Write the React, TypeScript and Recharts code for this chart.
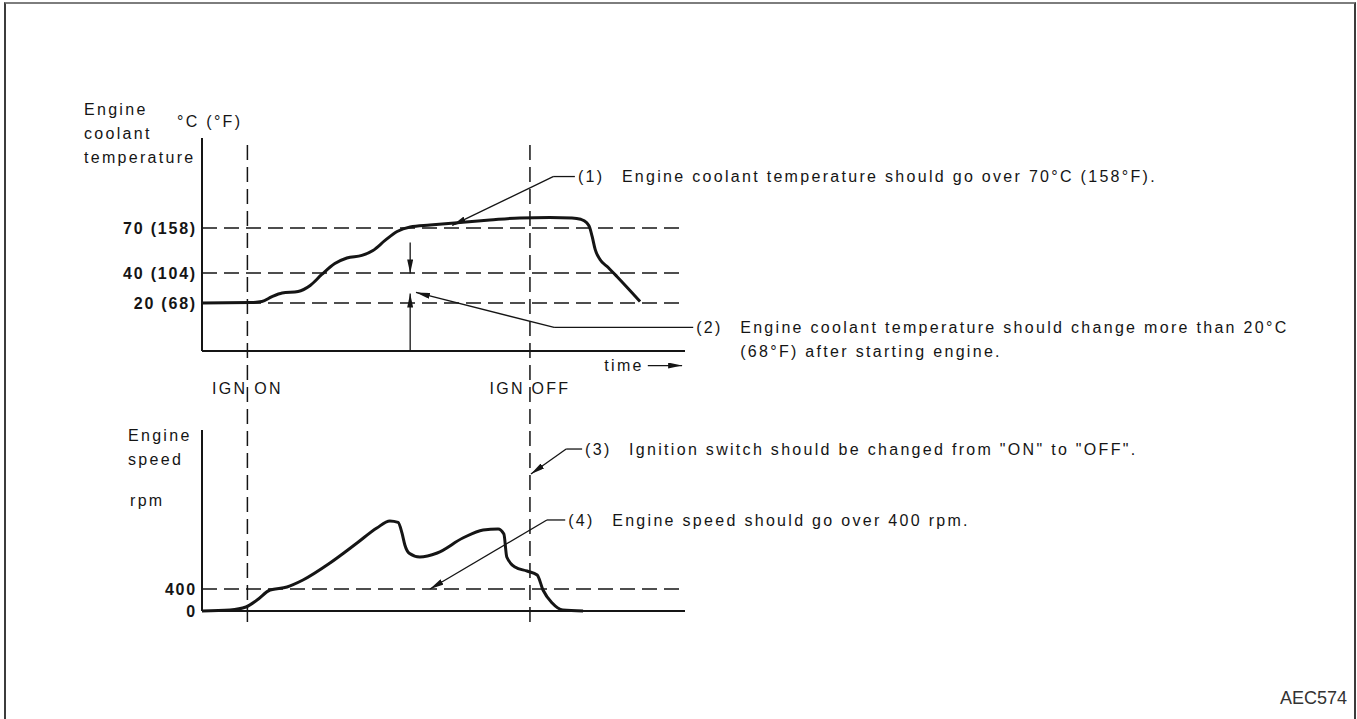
import React from "react";
import { ComposedChart, Line, XAxis, YAxis, ReferenceLine } from "recharts";

// schematic time axis 0..100, the two key instants marked on it
const ignOn = 9.4;
const ignOff = 67.9;

// engine coolant temperature trace, °C
const tempTime = [0, 10.1, 12.4, 14.5, 16.6, 19.9, 22.4, 24.8, 27.5, 30, 33.1, 35.4, 37.9, 40.4, 43.1, 47.2, 53.4, 59.6, 65.8, 72, 76.6, 78.4, 79.6, 80.3, 80.8, 81.4, 82.4, 84.1, 85.9, 90.7];
const tempValues = [20, 20.3, 21, 24.3, 26.7, 27.7, 31.7, 39, 46.3, 50, 51.7, 55, 61.7, 67.7, 70.7, 72, 73.7, 75.3, 76.7, 77, 76.7, 75.8, 73.6, 70, 64, 55.7, 49, 43.7, 37.7, 21];

// engine speed trace, rpm
const rpmTime = [0, 5.8, 9.1, 11.4, 14.1, 17.6, 20.9, 26.5, 32.1, 36.2, 38.9, 40.6, 41.4, 42, 42.9, 45.1, 48.7, 54, 58.2, 61.3, 62.5, 63.1, 64.8, 67.3, 69.4, 70.6, 72.5, 74.7, 78.9];
const rpmValues = [0, 18, 73, 200, 382, 436, 564, 873, 1236, 1509, 1636, 1610, 1420, 1200, 1050, 982, 1055, 1327, 1473, 1491, 1400, 982, 800, 727, 655, 382, 145, 18, 0];

// threshold levels and their labels
const tempTicks = [70, 40, 20];
const tempTickLabels = ["70 (158)", "40 (104)", "20 (68)"];
const rpmTicks = [400];
const rpmTickLabels = ["400"];

// axis ranges (schematic, not to scale between the two panels)
const tempDomain = [-192.7, 130];
const tempAxisBottom = -12;
const rpmDomain = [-200, 8600];
const rpmAxisTop = 3290;

// the "should change 20°C" double arrow
const changeAt = 43.1;
const changeArrows = [
  { from: 60.3, to: 39.7 },
  { from: -12, to: 26.3 },
];

// numbered notes: arrow tip, elbow, end of leader (time, value)
const notes = [
  { id: "(1)", axis: "temp", tip: [51.8, 71.7], elbow: [72.7, 104.3], end: [77.2, 104.3], lines: ["Engine coolant temperature should go over 70°C (158°F)."] },
  { id: "(2)", axis: "temp", tip: [44.3, 27], elbow: [72.9, 3.7], end: [101.7, 3.7], lines: ["Engine coolant temperature should change more than 20°C", "(68°F) after starting engine."] },
  { id: "(3)", axis: "rpm", tip: [68.1, 2490], elbow: [75.4, 2945], end: [78.7, 2945], lines: ['Ignition switch should be changed from "ON" to "OFF".'] },
  { id: "(4)", axis: "rpm", tip: [47.2, 400], elbow: [71.4, 1655], end: [75.2, 1655], lines: ["Engine speed should go over 400 rpm."] },
];

const tempSeries = tempTime.map((t, i) => ({ t, temp: tempValues[i] }));
const rpmSeries = rpmTime.map((t, i) => ({ t, rpm: rpmValues[i] }));

const INK = "#151515";

const arrowLine = (p: any) => (
  <line x1={p.x1} y1={p.y1} x2={p.x2} y2={p.y2} stroke={INK} strokeWidth={1.3} markerEnd="url(#tip)" />
);

const noteLabel = (note: any) => (props: any) => {
  const vb = props.viewBox || {};
  const x = vb.x + vb.width + 3;
  const y = vb.y;
  return (
    <text className="note">
      <tspan x={x} y={y} dy="0.35em">{note.id}</tspan>
      {note.lines.map((l: string, i: number) => (
        <tspan key={i} x={x + 44} y={y + i * 24} dy="0.35em">{l}</tspan>
      ))}
    </text>
  );
};

const tempTitle = (props: any) => {
  const vb = props.viewBox || {};
  return (
    <text className="note">
      <tspan x={vb.x - 118} y={vb.y - 29} dy="0.35em">Engine</tspan>
      <tspan x={vb.x - 118} y={vb.y - 5} dy="0.35em">coolant</tspan>
      <tspan x={vb.x - 118} y={vb.y + 19} dy="0.35em">temperature</tspan>
      <tspan x={vb.x - 25} y={vb.y - 17} dy="0.35em">°C (°F)</tspan>
    </text>
  );
};

const rpmTitle = (props: any) => {
  const vb = props.viewBox || {};
  return (
    <text className="note">
      <tspan x={vb.x - 74} y={vb.y + 5} dy="0.35em">Engine</tspan>
      <tspan x={vb.x - 74} y={vb.y + 29} dy="0.35em">speed</tspan>
      <tspan x={vb.x - 72} y={vb.y + 70} dy="0.35em">rpm</tspan>
    </text>
  );
};

export default function App() {
  return (
    <div style={{ position: "absolute", left: 0, top: 0, width: 1357, height: 719, overflow: "hidden", background: "#fff" }}>
      <style>{`
        .ect text { font-family: "Liberation Sans", Arial, Helvetica, sans-serif; font-size: 16px; fill: ${INK}; letter-spacing: 2.3px; }
        .ect text.tick-bold { font-weight: 700; letter-spacing: 1.8px; }
      `}</style>
      <div
        style={{
          position: "absolute",
          left: 4,
          top: 2,
          width: 1352,
          height: 740,
          boxSizing: "border-box",
          borderTop: "2px solid #7d7d7d",
          borderLeft: "2px solid #3c3c3c",
          borderRight: "2px solid #3c3c3c",
        }}
      />
      <div className="ect" style={{ position: "absolute", left: 0, top: 0 }}>
        <ComposedChart width={1357} height={719} margin={{ top: 138, right: 672, bottom: 97, left: 202 }}>
          <defs>
            <marker id="tip" viewBox="0 0 14 6" refX="14" refY="3" markerWidth="14" markerHeight="6" markerUnits="userSpaceOnUse" orient="auto">
              <path d="M0,0 L14,3 L0,6 z" fill={INK} />
            </marker>
          </defs>
          <XAxis type="number" dataKey="t" domain={[0, 100]} allowDataOverflow hide />
          <YAxis yAxisId="temp" type="number" domain={tempDomain} allowDataOverflow hide />
          <YAxis yAxisId="rpm" type="number" domain={rpmDomain} allowDataOverflow hide />

          {/* level lines */}
          {tempTicks.map((v, i) => (
            <ReferenceLine
              key={`tl-${v}`}
              yAxisId="temp"
              y={v}
              stroke={INK}
              strokeWidth={1.5}
              strokeDasharray="15 7"
              label={{ value: tempTickLabels[i], position: "left", offset: 5, className: "tick-bold" }}
            />
          ))}
          {rpmTicks.map((v, i) => (
            <ReferenceLine
              key={`rl-${v}`}
              yAxisId="rpm"
              y={v}
              stroke={INK}
              strokeWidth={1.5}
              strokeDasharray="15 7"
              label={{ value: rpmTickLabels[i], position: "left", offset: 5, className: "tick-bold" }}
            />
          ))}

          {/* ignition on / off */}
          <ReferenceLine yAxisId="temp" x={ignOn} stroke={INK} strokeWidth={1.5} strokeDasharray="15 7" label={{ value: "IGN ON", position: "insideTop", offset: 245 }} />
          <ReferenceLine yAxisId="temp" x={ignOff} stroke={INK} strokeWidth={1.5} strokeDasharray="15 7" label={{ value: "IGN OFF", position: "insideTop", offset: 245 }} />

          {/* axes of the two panels */}
          <ReferenceLine yAxisId="temp" ifOverflow="visible" segment={[{ x: 0, y: tempAxisBottom }, { x: 0, y: tempDomain[1] }]} stroke={INK} strokeWidth={2} label={tempTitle} />
          <ReferenceLine yAxisId="temp" ifOverflow="visible" segment={[{ x: 0, y: tempAxisBottom }, { x: 100, y: tempAxisBottom }]} stroke={INK} strokeWidth={2} />
          <ReferenceLine yAxisId="rpm" ifOverflow="visible" segment={[{ x: 0, y: 0 }, { x: 0, y: rpmAxisTop }]} stroke={INK} strokeWidth={2} label={rpmTitle} />
          <ReferenceLine yAxisId="rpm" ifOverflow="visible" segment={[{ x: 0, y: 0 }, { x: 100, y: 0 }]} stroke={INK} strokeWidth={2} label={{ value: "0", position: "left", offset: 5, className: "tick-bold" }} />
          <ReferenceLine
            yAxisId="temp"
            ifOverflow="visible"
            segment={[{ x: 92.3, y: -21.7 }, { x: 99.4, y: -21.7 }]}
            shape={arrowLine}
            label={{ value: "time", position: "left", offset: 4 }}
          />

          {/* 20°C change arrows */}
          {changeArrows.map((a, i) => (
            <ReferenceLine
              key={`ch-${i}`}
              yAxisId="temp"
              ifOverflow="visible"
              segment={[{ x: changeAt, y: a.from }, { x: changeAt, y: a.to }]}
              shape={arrowLine}
            />
          ))}

          {/* note leaders */}
          {notes.map((n) => (
            <ReferenceLine
              key={`nl-${n.id}`}
              yAxisId={n.axis}
              ifOverflow="visible"
              segment={[{ x: n.elbow[0], y: n.elbow[1] }, { x: n.tip[0], y: n.tip[1] }]}
              shape={arrowLine}
            />
          ))}
          {notes.map((n) => (
            <ReferenceLine
              key={`nh-${n.id}`}
              yAxisId={n.axis}
              ifOverflow="visible"
              segment={[{ x: n.elbow[0], y: n.elbow[1] }, { x: n.end[0], y: n.end[1] }]}
              stroke={INK}
              strokeWidth={1.3}
              label={noteLabel(n)}
            />
          ))}

          <Line yAxisId="temp" data={tempSeries} dataKey="temp" type="monotone" stroke={INK} strokeWidth={3} dot={false} isAnimationActive={false} />
          <Line yAxisId="rpm" data={rpmSeries} dataKey="rpm" type="monotone" stroke={INK} strokeWidth={3} dot={false} isAnimationActive={false} />
        </ComposedChart>
      </div>
      <div
        style={{
          position: "absolute",
          right: 10,
          top: 687,
          fontFamily: '"Liberation Sans", Arial, sans-serif',
          fontSize: 18,
          color: "#333",
          lineHeight: "22px",
        }}
      >
        AEC574
      </div>
    </div>
  );
}
